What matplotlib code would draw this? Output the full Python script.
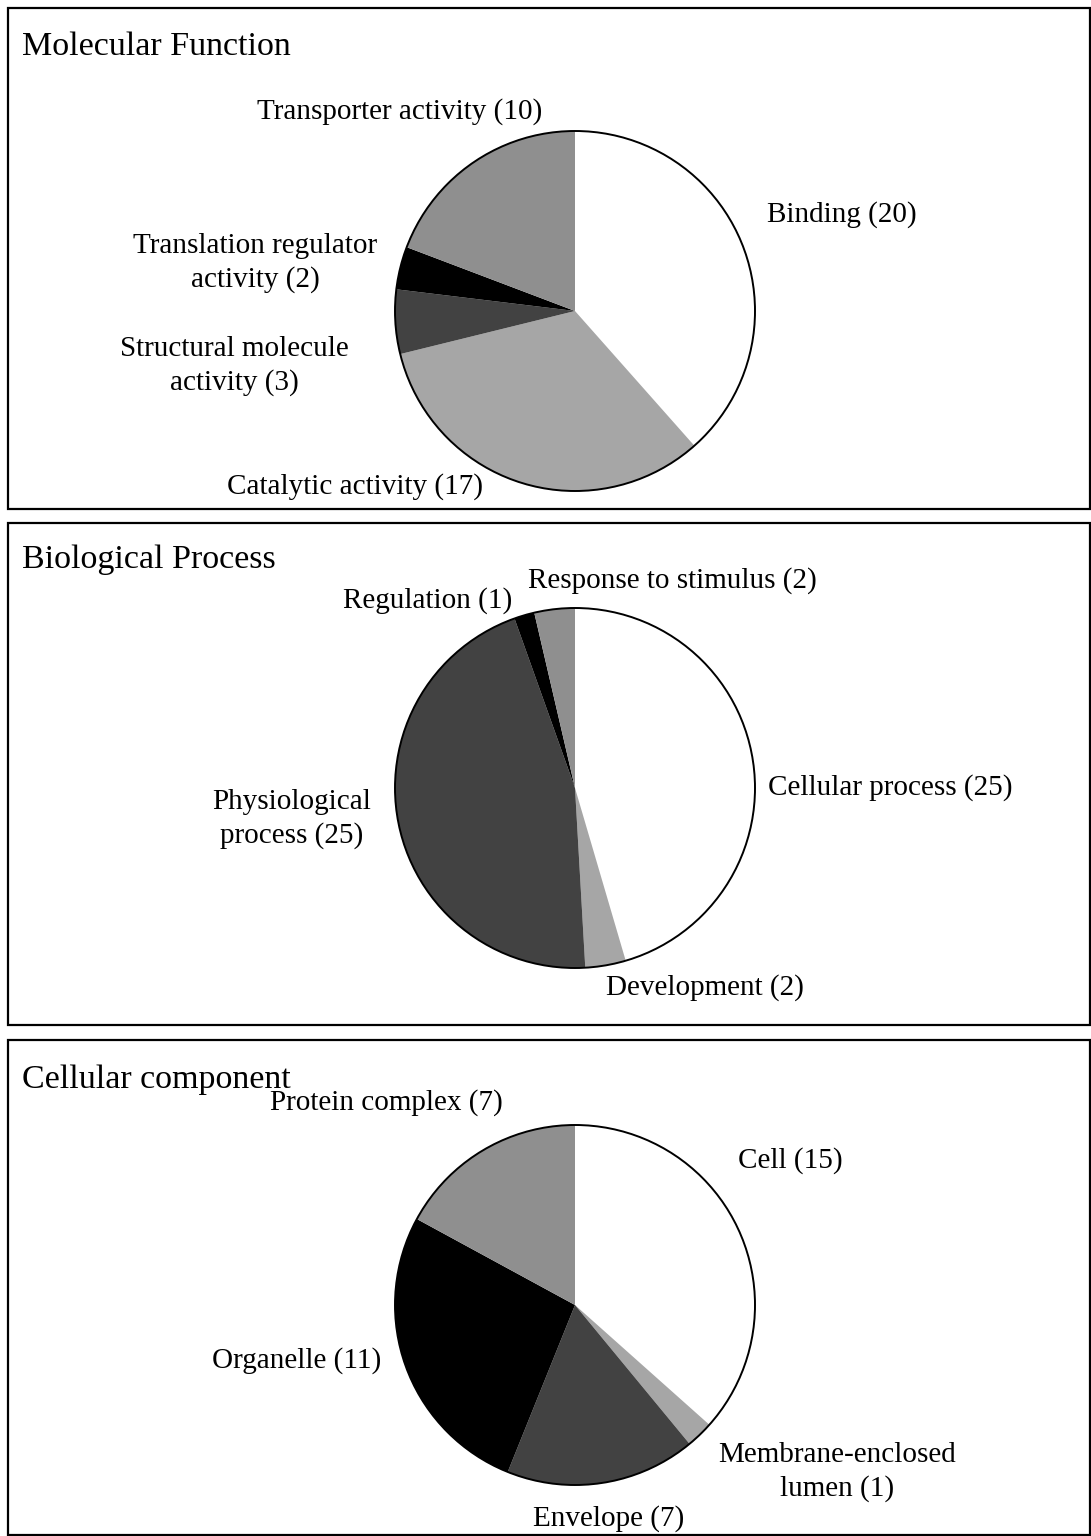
import matplotlib
matplotlib.use("Agg")
import matplotlib.pyplot as plt
from matplotlib.patches import Rectangle, Circle

plt.rcParams['font.family'] = ['Liberation Serif', 'DejaVu Serif']

W, H = 1091, 1536

# data
mf_labels = ['Binding (20)', 'Catalytic activity (17)', 'Structural molecule\nactivity (3)',
             'Translation regulator\nactivity (2)', 'Transporter activity (10)']
mf_values = [20, 17, 3, 2, 10]

bp_labels = ['Cellular process (25)', 'Development (2)', 'Physiological\nprocess (25)',
             'Regulation (1)', 'Response to stimulus (2)']
bp_values = [25, 2, 25, 1, 2]

cc_labels = ['Cell (15)', 'Membrane-enclosed\nlumen (1)', 'Envelope (7)',
             'Organelle (11)', 'Protein complex (7)']
cc_values = [15, 1, 7, 11, 7]

titles = ['Molecular Function', 'Biological Process', 'Cellular component']

# layout (pixels, y measured from top)
colors = ['#ffffff', '#a6a6a6', '#424242', '#000000', '#8f8f8f']
boxes = [(8, 8, 1090, 509), (8, 523, 1090, 1025), (8, 1040, 1090, 1535)]
title_y = [47, 560, 1080]
centers = [(575, 311), (575, 788), (575, 1305)]
radius = 180
label_pos = [
    [(842, 215), (355, 487), (234, 366), (255, 263), (400, 112)],
    [(890, 788), (705, 988), (292, 819), (428, 601), (672, 581)],
    [(790, 1161), (837, 1472), (609, 1519), (297, 1361), (386, 1103)],
]

fig = plt.figure(figsize=(W / 100, H / 100), dpi=100)
ax = fig.add_axes([0, 0, 1, 1])

panels = [(mf_labels, mf_values), (bp_labels, bp_values), (cc_labels, cc_values)]
for i, (labels, values) in enumerate(panels):
    x0, y0, x1, y1 = boxes[i]
    ax.add_patch(Rectangle((x0, H - y1), x1 - x0, y1 - y0, fill=False,
                           edgecolor='black', linewidth=1.6, zorder=5))
    ax.text(x0 + 14, H - title_y[i], titles[i], fontsize=24.5, va='center', ha='left')
    cx, cy = centers[i]
    ax.pie(values, colors=colors, startangle=90, counterclock=False,
           center=(cx, H - cy), radius=radius, frame=True,
           wedgeprops=dict(linewidth=0, edgecolor='none'))
    ax.add_patch(Circle((cx, H - cy), radius, fill=False, edgecolor='black',
                        linewidth=1.4, zorder=4))
    for lab, (lx, ly) in zip(labels, label_pos[i]):
        ax.text(lx, H - ly, lab, fontsize=21, ha='center', va='center',
                multialignment='center', linespacing=1.38)

ax.set_xlim(0, W)
ax.set_ylim(0, H)
ax.set_aspect('equal')
ax.axis('off')
fig.savefig('out.png', dpi=100)
